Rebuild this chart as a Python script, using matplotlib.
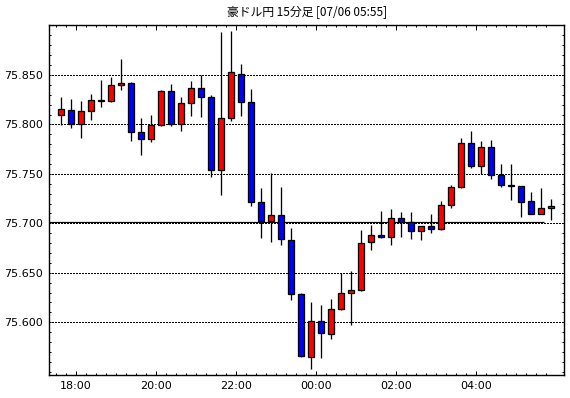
import matplotlib
matplotlib.use("Agg")
import matplotlib.pyplot as plt
from matplotlib.patches import Rectangle
from matplotlib.ticker import MultipleLocator, FormatStrFormatter, FixedLocator
import pandas as pd

# ---- data (15-minute candles, AUD/JPY) ----
start_time = "2023-07-05 17:30"
opens = [75.810, 75.815, 75.800, 75.814, 75.824, 75.824, 75.840, 75.842, 75.792, 75.785,
         75.799, 75.834, 75.800, 75.822, 75.837, 75.828, 75.754, 75.806, 75.851, 75.823,
         75.722, 75.702, 75.708, 75.683, 75.629, 75.565, 75.601, 75.588, 75.613, 75.630,
         75.633, 75.681, 75.688, 75.686, 75.705, 75.701, 75.692, 75.697, 75.694, 75.719,
         75.737, 75.781, 75.758, 75.777, 75.749, 75.739, 75.738, 75.723, 75.709, 75.716]
highs = [75.828, 75.826, 75.824, 75.831, 75.845, 75.848, 75.866, 75.843, 75.806, 75.810,
         75.835, 75.841, 75.828, 75.844, 75.850, 75.830, 75.893, 75.894, 75.861, 75.836,
         75.736, 75.751, 75.737, 75.695, 75.630, 75.620, 75.617, 75.624, 75.650, 75.652,
         75.693, 75.698, 75.712, 75.714, 75.711, 75.711, 75.697, 75.709, 75.723, 75.739,
         75.786, 75.793, 75.783, 75.784, 75.760, 75.760, 75.738, 75.732, 75.736, 75.725]
lows = [75.799, 75.796, 75.786, 75.804, 75.818, 75.823, 75.835, 75.783, 75.769, 75.782,
        75.798, 75.798, 75.793, 75.809, 75.808, 75.747, 75.729, 75.803, 75.809, 75.718,
        75.685, 75.681, 75.678, 75.623, 75.565, 75.553, 75.564, 75.583, 75.612, 75.597,
        75.632, 75.673, 75.685, 75.678, 75.686, 75.684, 75.683, 75.690, 75.693, 75.716,
        75.736, 75.756, 75.750, 75.745, 75.737, 75.724, 75.706, 75.709, 75.709, 75.703]
closes = [75.816, 75.800, 75.814, 75.825, 75.825, 75.840, 75.842, 75.792, 75.785, 75.799,
          75.834, 75.800, 75.822, 75.837, 75.828, 75.754, 75.806, 75.853, 75.823, 75.722,
          75.702, 75.708, 75.684, 75.629, 75.566, 75.601, 75.589, 75.613, 75.630, 75.633,
          75.680, 75.688, 75.686, 75.705, 75.701, 75.692, 75.697, 75.694, 75.719, 75.737,
          75.781, 75.758, 75.777, 75.749, 75.739, 75.738, 75.722, 75.709, 75.716, 75.718]
y_labels = [75.600, 75.650, 75.700, 75.750, 75.800, 75.850]
ref_price = 75.7012
title = "豪ドル円 15分足 [07/06 05:55]"

times = pd.date_range(start_time, periods=len(opens), freq="15min")

PX = 0.72  # one pixel in points at dpi 100
fig = plt.figure(figsize=(5.70, 3.98), dpi=100)
ax = fig.add_axes([49.3 / 570, 1 - 374.7 / 398, (564.3 - 49.3) / 570, (374.7 - 24.7) / 398])

body_w = 0.64
for i, (o, h, l, c) in enumerate(zip(opens, highs, lows, closes)):
    xc = i + 0.5
    ax.vlines(xc, l, h, color="black", lw=1.3 * PX, zorder=3)
    col = "#FF0000" if c >= o else "#0000FF"
    bottom = min(o, c)
    height = max(abs(c - o), 0.0008)
    ax.add_patch(Rectangle((xc - body_w / 2, bottom), body_w, height,
                           facecolor=col, edgecolor="black", lw=1.3 * PX, zorder=4))

ax.set_xlim(-0.67, 50.83)
ax.set_ylim(75.547, 75.9008)

# reference line
ax.hlines(ref_price, -0.67, 48.8, color="black", lw=1.2 * PX, zorder=2)

# y axis
ax.yaxis.set_major_locator(FixedLocator(y_labels))
ax.yaxis.set_minor_locator(MultipleLocator(0.01))
ax.yaxis.set_major_formatter(FormatStrFormatter("%.3f"))
ax.grid(axis="y", which="major", color="black", linestyle=(0, (1.5, 1.5)), lw=1.0 * PX,
        zorder=1, antialiased=False)

# x axis
major_pos = [i for i, t in enumerate(times) if t.minute == 0 and t.hour % 2 == 0]
major_lab = [times[i].strftime("%H:%M") for i in major_pos]
ax.xaxis.set_major_locator(FixedLocator(major_pos))
ax.set_xticklabels(major_lab)
ax.xaxis.set_minor_locator(FixedLocator(list(range(len(opens)))))

ax.tick_params(axis="both", which="both", direction="in", top=True, right=True,
               labelsize=8, colors="black", width=1.0 * PX)
ax.tick_params(axis="both", which="major", length=4.5 * PX, pad=4.5)
ax.tick_params(axis="both", which="minor", length=2.5 * PX)
ax.tick_params(axis="y", which="major", length=2.5 * PX)

for s in ax.spines.values():
    s.set_linewidth(1.4 * PX)
    s.set_color("black")

fig.text((49.3 + 564.3) / 2 / 570, 1 - 12 / 398, title, ha="center", va="center",
         fontsize=8.5, family=["Noto Sans CJK JP", "DejaVu Sans"])

fig.savefig("out.png", dpi=100)
